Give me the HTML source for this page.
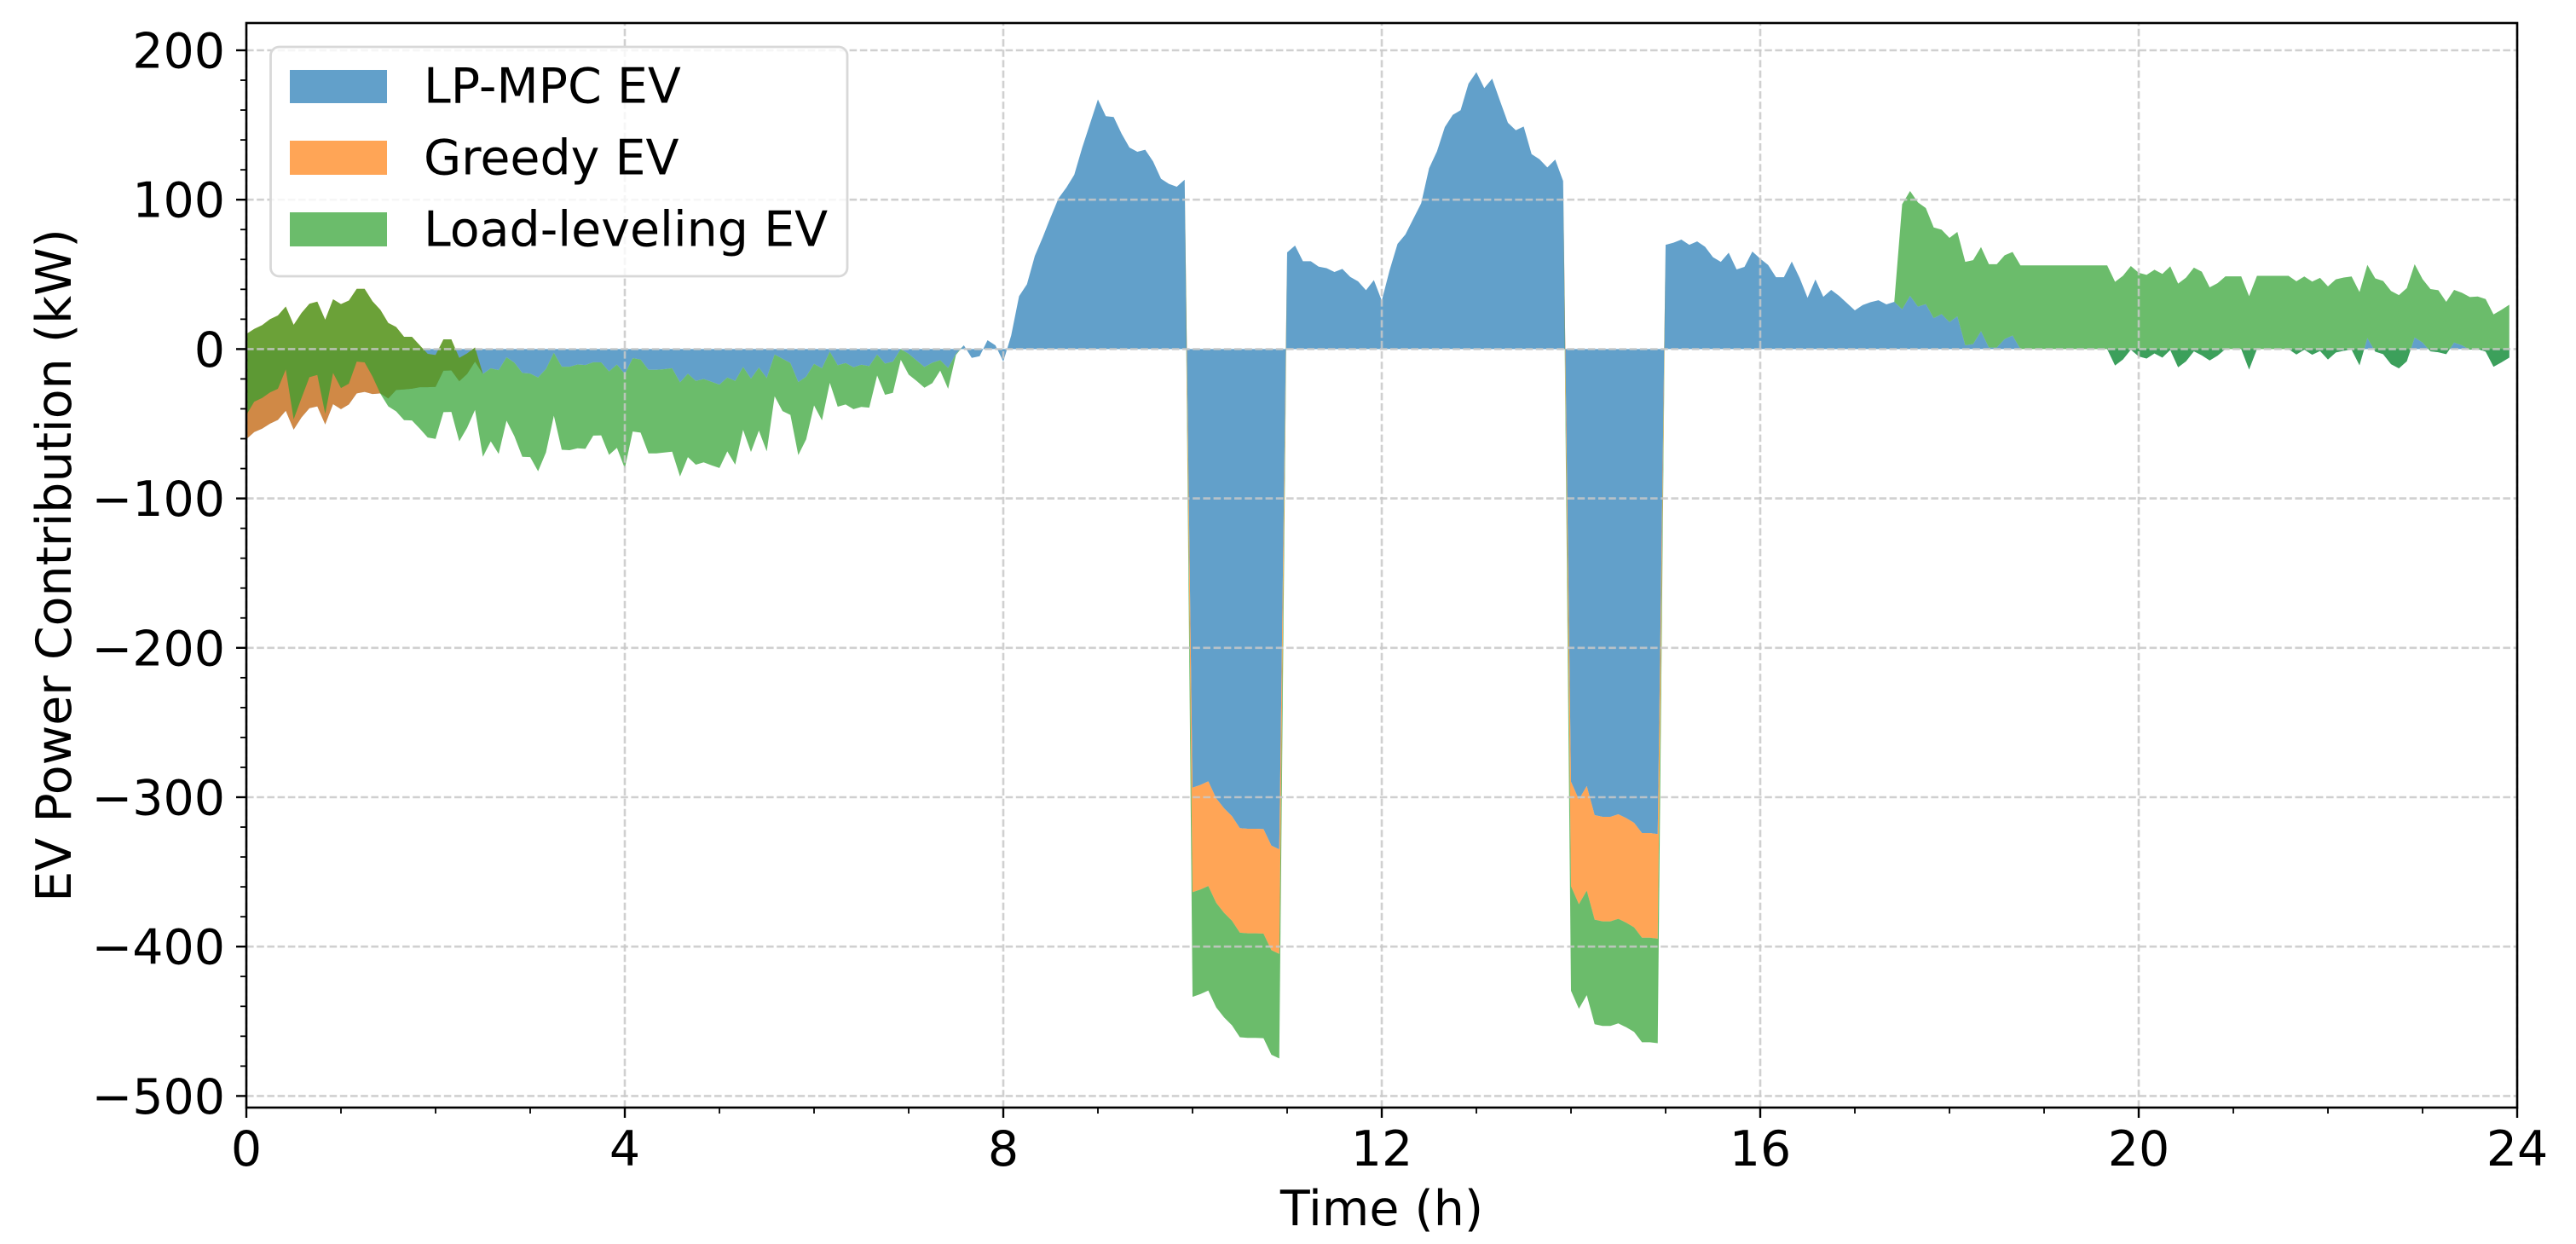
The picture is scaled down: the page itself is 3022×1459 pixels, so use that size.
<!DOCTYPE html>
<html lang="en">
<head>
<meta charset="utf-8">
<title>EV Power Contribution</title>
<style>
html,body{margin:0;padding:0;background:#fff;width:3022px;height:1459px;overflow:hidden}
svg{display:block}
text{font-family:"DejaVu Sans","Liberation Sans",sans-serif;font-size:57px;fill:#000}
</style>
</head>
<body>
<svg id="chart" xmlns="http://www.w3.org/2000/svg" width="3022" height="1459" viewBox="0 0 3022 1459">
  <rect x="0" y="0" width="3022" height="1459" fill="#fff"/>
  <g id="series"></g>
  <g id="grid"></g>
  <g id="ticks"></g>
  <g id="spines" fill="none" stroke="#000" stroke-width="2.6">
    <rect x="289" y="27" width="2664" height="1272"/>
  </g>
  <text x="1621" y="1437" text-anchor="middle">Time (h)</text>
  <text x="83" y="663" text-anchor="middle" transform="rotate(-90 83 663)">EV Power Contribution (kW)</text>
  <g>
    <rect x="317.5" y="55" width="676.5" height="269" rx="10" ry="10" fill="#fff" fill-opacity="0.8" stroke="#d8d8d8" stroke-width="2.8"/>
    <rect x="340" y="82" width="114" height="39" fill="#1f77b4" fill-opacity="0.7"/>
    <text x="497" y="120.7">LP-MPC EV</text>
    <rect x="340" y="165" width="114" height="40" fill="#ff7f0e" fill-opacity="0.7"/>
    <text x="497" y="204.7">Greedy EV</text>
    <rect x="340" y="249" width="114" height="40" fill="#2ca02c" fill-opacity="0.7"/>
    <text x="497" y="288.3">Load-leveling EV</text>
  </g>
</svg>
<script>
const lpMpcEv = [
-60.3,-55.6,-53.3,-49.9,-47.4,-41.3,-53.9,-45.7,-39.6,-38.4,-50.4,-36.9,-40.2,-37.1,-29.7,-28.7,-30.1,-29.7,
-33.1,-27.4,-27,-26.5,-25.5,-25.5,-25.3,-14.5,-14.3,-21.5,-16.7,-8.4,
-16.7,-12.9,-14.1,-5.5,-9.1,-16,-16.4,-19,-13.3,-2.5,-11.8,-11.8,-10.3,-10.7,-8.8,-8.9,-15,-10.3,-16.7,-6.1,-7,-13.9,-13.9,-13.5,-12.8,-22.3,-16.5,
-21.3,-20,-21.9,-23.8,-19,-21.3,-12,-19.8,-12.4,-19.4,-3.6,-6.5,-9.3,-22.1,-18.5,-9.9,-12.9,-1.7,-10.8,-9.3,-12.2,-10.5,-11.4,-3.6,-9.7,-8.4,0,-3.2,-7.6,-12,-9.1,-7.4,-12.7,-3.2,2.5,-5.9,-4.8,5.9,2.5,-8.4,
9.1,35.4,43.4,62.4,74.8,88.1,100.9,108.1,116.7,134.7,150.9,167.1,155.9,155.3,144.2,134.9,132.1,133.4,125.6,114,110.6,108.7,113.4,
-293.6,-291.8,-289.4,-300.7,-307.4,-312.7,-320.7,-321.1,-321.1,-321.3,-332.4,-334.9,
64.7,69.3,58.8,58.8,55.2,54.2,51.6,53.7,48.3,45.3,39.4,46.2,32.4,52.9,
70.4,76.7,87.2,97.6,121,132.4,148.6,156.8,159.9,177.7,185.4,174.7,181,166.1,151.5,146.5,149,130.5,127.1,121.6,126.9,112.5,
-289.6,-301.6,-292.5,-312,-313.1,-313.1,-311.4,-314,-317.1,-324,-324,-324.7,
69.8,71.2,73.3,69.8,72.1,68.5,61.5,58.4,64.5,53.3,55,65.3,60.5,56.3,48.1,48.1,58.6,47.6,34.3,46.6,35,39.6,35.6,30.8,25.9,29.5,31.4,32.7,29.9,31.6,
26.6,35.6,28.4,30.1,20.7,23.4,18.1,21.9,2.5,3.4,12,1,1,6.7,9.1,
0,0,0,0,0,0,0,0,0,0,0,0,
-11,-7,-0.4,-4.9,-6.3,-2.9,-5.7,-0.6,-12.2,-8.2,-1.5,-4.2,-7.6,-4.4,0,0,0,-13.7,
0,0,0,0,0,
-3.6,-0.4,-3.8,-1.3,-7,-2.3,-1.1,-0.4,-10.8,7.4,-1.7,-3.4,-10.1,-12.9,-8.2,7.8,4.4,-1.5,-2.1,-3.4,4.4,2.5,-0.4,0,-1.7,-11.8,-8.9,-5.7
];
const greedyEv = [
70.4,69.1,69.3,69.9,69.9,69.8,70.1,69.9,69.9,70.2,70,70.2,70.3,69.6,70,69,62.1,56,50.6,42.2,35.2,34.7,28,22.3,21.3,21,20.8,15.6,13.8,9.5,
0,0,0,0,0,0,0,0,0,0,0,0,0,0,0,0,0,0,0,0,0,0,0,0,0,0,0,0,0,0,
0,0,0,0,0,0,0,0,0,0,0,0,0,0,0,0,0,0,0,0,0,0,0,0,0,0,0,0,0,0,
0,0,0,0,0,0,0,0,0,0,0,0,0,0,0,0,0,0,0,0,0,0,0,0,0,0,0,0,0,0,
-70,-70,-70,-70,-70,-70,-70,-70,-70,-70,-70,-70,
0,0,0,0,0,0,0,0,0,0,0,0,0,0,0,0,0,0,0,0,0,0,0,0,0,0,0,0,0,0,0,0,0,0,0,0,
-70,-70,-70,-70,-70,-70,-70,-70,-70,-70,-70,-70,
0,0,0,0,0,0,0,0,0,0,0,0,0,0,0,0,0,0,0,0,0,0,0,0,0,0,0,0,0,0,0,0,0,0,0,0,
0,0,0,0,0,0,0,0,0,0,0,0,0,0,0,0,0,0,0,0,0,0,0,0,0,0,0,0,0,0,0,0,0,0,0,0,
0,0,0,0,0,0,0,0,0,0,0,0,0,0,0,0,0,0,0,0,0,0,0,0,0,0,0,0,0,0,0,0,0,0,0,0
];
const loadLevelingEv = [
-54.2,-48.7,-48.7,-49,-49.1,-42.2,-63.2,-56.9,-49.1,-49.1,-62.9,-49.3,-56.2,-55.7,-48.7,-49.2,-50.4,-56.2,
-55.9,-56.5,-55.8,-56,-55.8,-56,-56.1,-48.7,-48.6,-55.9,-49.8,-41.8,
-55.4,-48.9,-56.1,-42.4,-49.3,-56.1,-55.9,-62.8,-55.9,-42.1,-55.6,-55.9,-56.1,-56.1,-49.1,-48.9,-55.8,-55.8,-63.2,-49.1,-48.9,-55.9,-55.9,-55.8,-55.9,-63,-55.8,
-56.1,-55.8,-55.9,-55.8,-49.5,-56.1,-42.1,-49.1,-42.2,-49.1,-28,-35,-34.8,-48.9,-41.9,-27.8,-34.8,-20.9,-27.8,-27.8,-28,-28.2,-27.8,-14.1,-20.9,-20.9,-7.2,-13.9,-13.7,-13.9,-13.7,-7,-13.9,
-0.7,0,0,0,0,0,0,0,0,0,0,0,0,0,0,0,0,0,0,0,0,0,0,0,0,0,0,0,0,0,
-70,-70,-70,-70,-70,-70,-70,-70,-70,-70,-70,-70,
0,0,0,0,0,0,0,0,0,0,0,0,0,0,0,0,0,0,0,0,0,0,0,0,0,0,0,0,0,0,0,0,0,0,0,0,
-70,-70,-70,-70,-70,-70,-70,-70,-70,-70,-70,-70,
0,0,0,0,0,0,0,0,0,0,0,0,0,0,0,0,0,0,0,0,0,0,0,0,0,0,
0,0,0,0,
70.4,70.2,69.8,64.3,60.7,56.5,56.3,56.5,55.9,56.1,56.3,55.8,55.8,56.1,55.9,
56,56,56,56,56,56,56,56,56,56,56,56,56,56,56,56,56,56,56,56,56,56,56,56,
48.9,48.5,48.7,48.7,48.7,49.1,
49,49,49,49,49,49,49,49,49,49,49,49,49,49,49,49,49,49,49,49,49,
42.4,41.7,41.5,
35,35.2,35.2,35.2,35.2,35.2,35,35.2,35.4
];
const xTickLabels = [0, 4, 8, 12, 16, 20, 24];
const xMinorTicks = [1, 2, 3, 5, 6, 7, 9, 10, 11, 13, 14, 15, 17, 18, 19, 21, 22, 23];
const yTickLabels = [200, 100, 0, -100, -200, -300, -400, -500];
const yMinorTicks = [180, 160, 140, 120, 80, 60, 40, 20, -20, -40, -60, -80, -120, -140, -160, -180, -220, -240, -260, -280, -320, -340, -360, -380, -420, -440, -460, -480];
const hoursPerSample = 1 / 12;

const NS = 'http://www.w3.org/2000/svg';
const plotLeft = 289, plotRight = 2953, plotTop = 27, plotBottom = 1299;
const xScale = h => plotLeft + (h / 24) * (plotRight - plotLeft);
const yScale = v => 409.4 - 1.752 * v;

function make(tag, attrs, parent) {
  const el = document.createElementNS(NS, tag);
  for (const k in attrs) el.setAttribute(k, attrs[k]);
  parent.appendChild(el);
  return el;
}

/* stacked areas: each band runs from the running total before it to the total after it */
const seriesGroup = document.getElementById('series');
const stackDefs = [
  { values: lpMpcEv, color: '#1f77b4' },
  { values: greedyEv, color: '#ff7f0e' },
  { values: loadLevelingEv, color: '#2ca02c' }
];
const bandNames = ['area-lp-mpc-ev', 'area-greedy-ev', 'area-load-leveling-ev'];
let running = lpMpcEv.map(() => 0);
stackDefs.forEach((s, idx) => {
  const next = running.map((b, i) => b + s.values[i]);
  const pts = [];
  next.forEach((v, i) => pts.push(xScale(i * hoursPerSample).toFixed(2) + ',' + yScale(v).toFixed(2)));
  for (let i = running.length - 1; i >= 0; i--) pts.push(xScale(i * hoursPerSample).toFixed(2) + ',' + yScale(running[i]).toFixed(2));
  const poly = make('polygon', { points: pts.join(' '), fill: s.color, 'fill-opacity': 0.7 }, seriesGroup);
  
  
  running = next;
});

/* grid */
const gridGroup = document.getElementById('grid');
const gridStyle = { stroke: '#c8c8c8', 'stroke-opacity': 0.85, 'stroke-width': 2.6, 'stroke-dasharray': '8.6 3.6', fill: 'none' };
xTickLabels.forEach(h => {
  const line = make('line', Object.assign({ x1: xScale(h), x2: xScale(h), y1: plotBottom, y2: plotTop }, gridStyle), gridGroup);
  
  
});
yTickLabels.forEach(v => {
  const line = make('line', Object.assign({ x1: plotLeft, x2: plotRight, y1: yScale(v), y2: yScale(v) }, gridStyle), gridGroup);
  
  
});

/* ticks and tick labels */
const tickGroup = document.getElementById('ticks');
xTickLabels.forEach(h => {
  const tick = make('line', { x1: xScale(h), x2: xScale(h), y1: plotBottom, y2: plotBottom + 12, stroke: '#000', 'stroke-width': 2.4 }, tickGroup);
  
  
  const label = make('text', { x: xScale(h), y: 1367, 'text-anchor': 'middle' }, tickGroup);
  
  
  label.textContent = String(h);
});
xMinorTicks.forEach(h => {
  const tick = make('line', { x1: xScale(h), x2: xScale(h), y1: plotBottom, y2: plotBottom + 7, stroke: '#000', 'stroke-width': 1.8 }, tickGroup);
  
  
});
yTickLabels.forEach(v => {
  const tick = make('line', { x1: plotLeft - 12, x2: plotLeft, y1: yScale(v), y2: yScale(v), stroke: '#000', 'stroke-width': 2.4 }, tickGroup);
  
  
  const label = make('text', { x: 264, y: yScale(v) + 20.5, 'text-anchor': 'end' }, tickGroup);
  
  
  label.textContent = String(v).replace('-', '\u2212');
});
yMinorTicks.forEach(v => {
  const tick = make('line', { x1: plotLeft - 7, x2: plotLeft, y1: yScale(v), y2: yScale(v), stroke: '#000', 'stroke-width': 1.8 }, tickGroup);
  
  
});
</script>
</body>
</html>
